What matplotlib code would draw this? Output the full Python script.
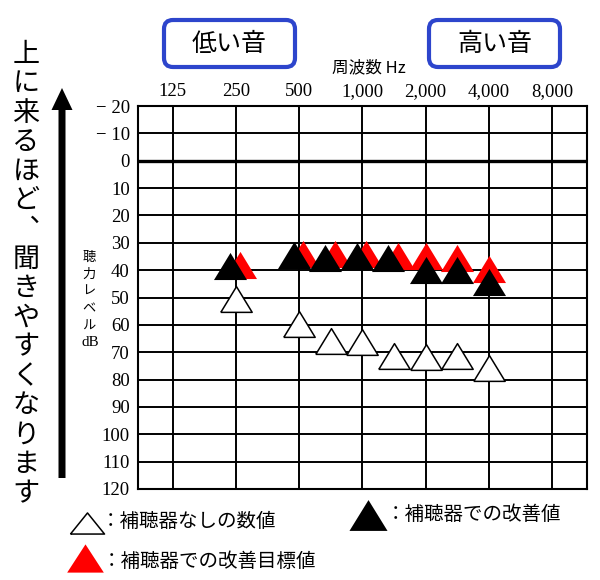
import matplotlib
matplotlib.use('Agg')
import matplotlib.pyplot as plt
import numpy as np
from matplotlib.patches import FancyBboxPatch
from matplotlib.transforms import offset_copy

JP = ['Noto Sans CJK JP', 'DejaVu Sans']
SERIF = 'Liberation Serif'

# audiogram values (dB HL)
tick_freqs = [125, 250, 500, 1000, 2000, 4000, 8000]
tick_labels = ['125', '250', '500', '1,000', '2,000', '4,000', '8,000']
db_ticks = list(range(-20, 121, 10))
freqs = [250, 500, 750, 1000, 1500, 2000, 3000, 4000]
unaided = [50.5, 59.7, 65.8, 66.4, 71.3, 71.6, 71.3, 75.6]
aided = [38.4, 34.5, 35.4, 34.9, 35.4, 40, 40, 44.3]
target = [38, 34.2, 34.2, 34.2, 34.7, 34.9, 35.4, 39.4]

# vertical comma form (U+FE11) for the vertical text
side_text = '上に来るほど\ufe11聞きやすくなります'
ylabel_chars = '聴力レベル'


def tri(h=0.82):
    return [(-1, -h), (1, -h), (0, h), (-1, -h)]


fig = plt.figure(figsize=(6, 5.8), dpi=100)

# overlay in pixel units for the annotations around the chart
ov = fig.add_axes([0, 0, 1, 1])
ov.set_xlim(0, 600)
ov.set_ylim(580, 0)
ov.axis('off')

ax = fig.add_axes([0.23, 0.1569, 0.7488, 0.6603])
ax.set_zorder(2)

# audiogram x scale: one unit per octave, in-between frequencies at the midpoint
xpos = np.interp(freqs, tick_freqs, np.arange(len(tick_freqs)))
ax.set_xlim(-0.55, 6.56)
ax.set_ylim(120, -20)
ax.set_xticks(np.arange(len(tick_freqs)))
ax.set_xticklabels(tick_labels, fontfamily=SERIF, fontsize=13.5)
ax.set_yticks(db_ticks)
ax.set_yticklabels([('− %d' % -v) if v < 0 else str(v) for v in db_ticks],
                   fontfamily=SERIF, fontsize=13.5)
ax.xaxis.tick_top()
ax.tick_params(axis='x', length=0, pad=4)
ax.tick_params(axis='y', length=0, pad=6)
ax.grid(True, color='black', lw=1.4)
ax.axhline(0, color='black', lw=2.4, zorder=2)
for s in ax.spines.values():
    s.set_linewidth(1.5)

aided = np.array(aided)
target = np.array(target)
side = np.abs(target - aided) < 3

for mask, dx_red, dx_blk in [(side, 4, -5.5), (~side, 0, 0)]:
    tr_red = offset_copy(ax.transData, fig=fig, x=dx_red, y=0, units='dots')
    tr_blk = offset_copy(ax.transData, fig=fig, x=dx_blk, y=0, units='dots')
    ax.plot(xpos[mask], target[mask], ls='none', marker=tri(), ms=23.8,
            mfc='#ff0000', mec='none', transform=tr_red, zorder=3)
    ax.plot(xpos[mask], aided[mask], ls='none', marker=tri(), ms=23.8,
            mfc='black', mec='none', transform=tr_blk, zorder=4)

ax.plot(xpos, unaided, ls='none', marker=tri(), ms=22.6, mfc='white',
        mec='black', mew=1.1, zorder=5)

# frequency title
ov.text(369, 68, '周波数 Hz', fontfamily=JP, fontsize=12, ha='center', va='center')

# y label, written vertically
for i, ch in enumerate(ylabel_chars):
    ov.text(89, 257 + i * 17.2, ch, fontfamily=JP, fontsize=9.5, ha='center', va='center')
ov.text(90, 342, 'dB', fontfamily=SERIF, fontsize=11, ha='center', va='center')

# boxes for low / high sounds
for cx, label in [(229.5, '低い音'), (494.5, '高い音')]:
    ov.add_patch(FancyBboxPatch((cx - 65.5, 20), 131, 47,
                                boxstyle='round,pad=0,rounding_size=9',
                                fc='white', ec='#2d45cc', lw=3))
    ov.text(cx, 44, label, fontfamily=JP, fontsize=18, ha='center', va='center')

# left side vertical message with arrow
for i, ch in enumerate(side_text):
    ov.text(26, 54.6 + i * 29.25, ch, fontfamily=JP, fontsize=19.5,
            ha='center', va='center')
ov.arrow(62, 478, 0, -390, width=7, head_width=21, head_length=22,
         length_includes_head=True, fc='black', ec='none')

# legend
ov.plot(86.7, 522.5, marker=tri(0.62), ms=24.5, mfc='white', mec='black', mew=1.1)
ov.text(101, 521.7, '：補聴器なしの数値', fontfamily=JP, fontsize=14, ha='left', va='center')
ov.plot(85, 557.5, marker=tri(0.77), ms=26.4, mfc='#ff0000', mec='none')
ov.text(102, 561.7, '：補聴器での改善目標値', fontfamily=JP, fontsize=14, ha='left', va='center')
ov.plot(368.3, 515.3, marker=tri(0.81), ms=27.4, mfc='black', mec='none')
ov.text(386, 515, '：補聴器での改善値', fontfamily=JP, fontsize=14, ha='left', va='center')

fig.savefig('out.png', dpi=100)
